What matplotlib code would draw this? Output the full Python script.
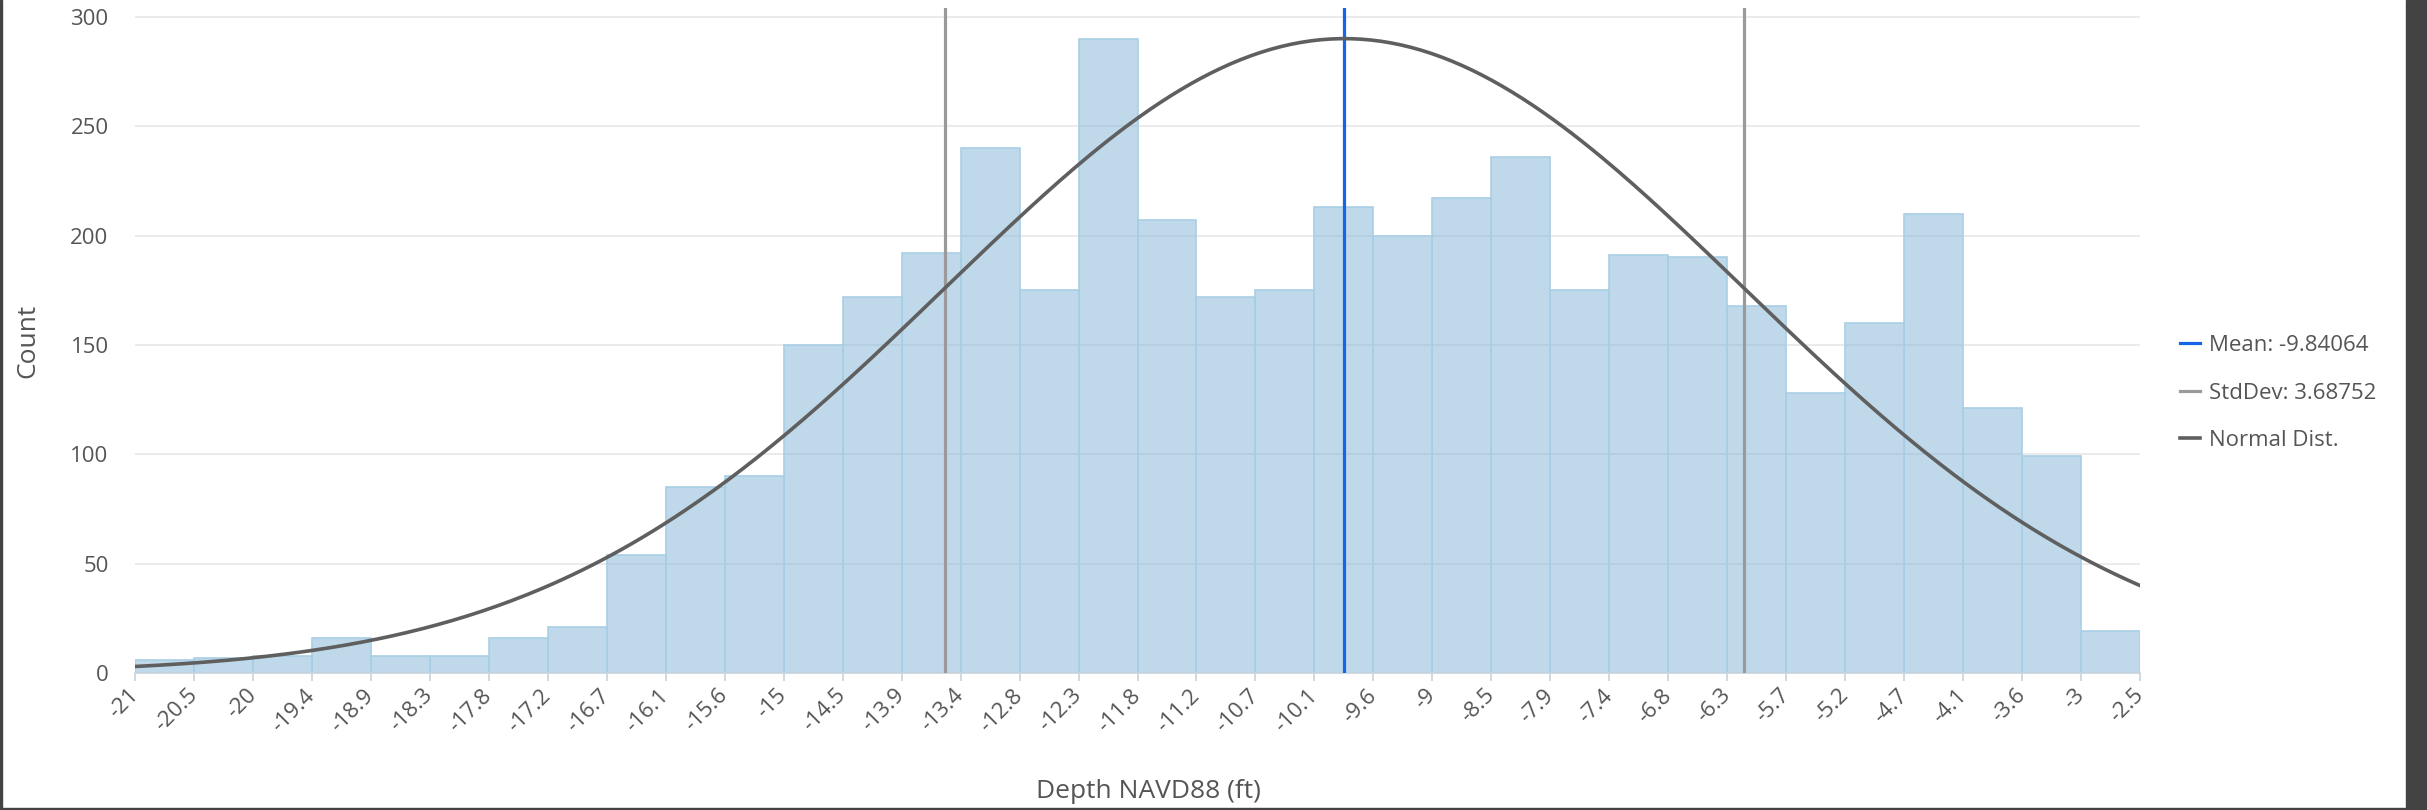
import numpy as np
import matplotlib
matplotlib.use("Agg")
from matplotlib import pyplot as plt
from matplotlib.patches import Rectangle

# bar heights, one per bin from -21 to -2.5
counts = [6, 7, 8, 16, 8, 8, 16, 21, 54, 85, 90, 150, 172, 192, 240, 175, 290,
          207, 172, 175, 213, 200, 217, 236, 175, 191, 190, 168, 128, 160, 210,
          121, 99, 19]
tick_labels = ["-21", "-20.5", "-20", "-19.4", "-18.9", "-18.3", "-17.8", "-17.2",
               "-16.7", "-16.1", "-15.6", "-15", "-14.5", "-13.9", "-13.4", "-12.8",
               "-12.3", "-11.8", "-11.2", "-10.7", "-10.1", "-9.6", "-9", "-8.5",
               "-7.9", "-7.4", "-6.8", "-6.3", "-5.7", "-5.2", "-4.7", "-4.1",
               "-3.6", "-3", "-2.5"]
depth_min = -21.0
depth_max = -2.5
mean_depth = -9.84064
std_depth = 3.68752
curve_peak = 290  # height of the normal curve at the mean

text_color = "#555555"
plt.rcParams["font.family"] = ["Open Sans", "DejaVu Sans"]

fig = plt.figure(figsize=(24.27, 8.10), dpi=100)
ax = fig.add_axes([135 / 2427, 137 / 810, 2005 / 2427, 665 / 810])

# histogram bars
edges = np.linspace(depth_min, depth_max, len(counts) + 1)
ax.bar(edges[:-1], counts, width=np.diff(edges), align="edge",
       color=(0.50, 0.71, 0.84, 0.5), edgecolor="#a9cfe5", linewidth=1.2, zorder=2)

# mean / std dev lines
mean_line = ax.axvline(mean_depth, color="#1565e6", lw=2.3, zorder=3,
                       label=f"Mean: {mean_depth}")
std_line = ax.axvline(mean_depth - std_depth, color="#9a9a9a", lw=2.3, zorder=3,
                      label=f"StdDev: {std_depth}")
ax.axvline(mean_depth + std_depth, color="#9a9a9a", lw=2.3, zorder=3)

# normal distribution curve
xs = np.linspace(depth_min, depth_max, 400)
ys = curve_peak * np.exp(-0.5 * ((xs - mean_depth) / std_depth) ** 2)
curve, = ax.plot(xs, ys, color="#5f5f5f", lw=2.6, zorder=4, label="Normal Dist.")

ax.set_xlim(depth_min, depth_max)
ax.set_ylim(0, 304)
ax.set_yticks(range(0, 301, 50))
ax.set_xticks(edges)
ax.set_xticklabels(tick_labels, rotation=45, ha="right", va="center",
                   rotation_mode="anchor")
ax.grid(axis="y", color="#e8e8e8", lw=1.2, zorder=0)
ax.set_axisbelow(True)

for side in ["top", "right", "left"]:
    ax.spines[side].set_visible(False)
ax.spines["bottom"].set_color("#c9d3dc")
ax.spines["bottom"].set_linewidth(1.2)
ax.tick_params(axis="y", length=0, pad=19, labelsize=16, labelcolor=text_color)
ax.tick_params(axis="x", length=6, width=1.2, color="#c9d3dc", pad=8,
               labelsize=16, labelcolor=text_color)

ax.set_ylabel("Count", fontsize=19, color=text_color)
ax.yaxis.set_label_coords(-0.047, 0.5)
ax.set_xlabel("Depth NAVD88 (ft)", fontsize=19, color=text_color)
ax.xaxis.set_label_coords(0.5057, -0.16)

fig.legend(handles=[mean_line, std_line, curve], loc="center left",
           bbox_to_anchor=(2180 / 2427, (810 - 393) / 810), frameon=False,
           fontsize=16, labelcolor=text_color, handlelength=0.9,
           handletextpad=0.4, labelspacing=1.2, borderpad=0, borderaxespad=0)

# dark screenshot frame around the panel
frame = "#434343"
fig.add_artist(Rectangle((2406 / 2427, 0), 1, 1, transform=fig.transFigure, color=frame))
fig.add_artist(Rectangle((0, 0), 1, 2 / 810, transform=fig.transFigure, color=frame))
fig.add_artist(Rectangle((0, 0), 2 / 2427, 1, transform=fig.transFigure, color=frame))

fig.savefig("out.png", dpi=100)
